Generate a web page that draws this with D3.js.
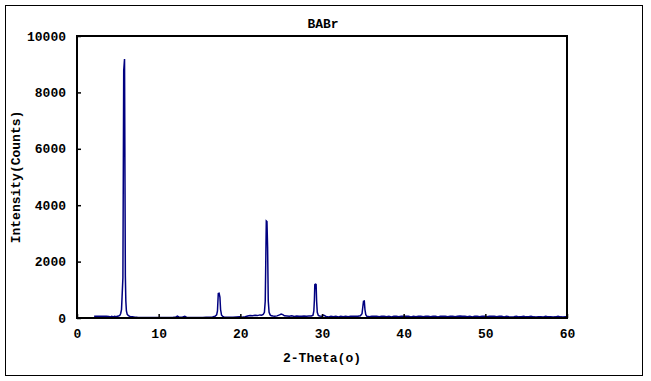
<!DOCTYPE html>
<html>
<head>
<meta charset="utf-8">
<script src="https://cdn.jsdelivr.net/npm/d3@7"></script>
<style>
body { margin: 0; background: #fff; }
text { font-family: "Liberation Mono", "DejaVu Sans Mono", monospace; font-weight: bold; }
</style>
</head>
<body>
<svg id="chart" width="651" height="381"></svg>
<script>
// 2-theta angles (degrees) and intensity counts
var twoTheta = [
  2.10, 2.40, 2.70, 3.00, 3.30, 3.60, 3.90, 4.10, 4.25, 4.45, 4.60, 4.80, 4.95, 5.10, 5.25, 5.35, 5.45,
  5.52, 5.62, 5.72, 5.82, 5.92, 5.98, 6.05, 6.15, 6.30, 6.50,
  6.8, 7.1, 7.4, 7.8, 8.2, 8.6, 9.0, 9.4, 9.8, 10.2, 10.6, 11.0, 11.4, 11.8, 12.1, 12.3, 12.5, 12.9,
  13.2, 13.4, 13.8, 14.2, 14.6, 15.0, 15.4, 15.8, 16.2, 16.6, 16.9, 17.1, 17.2, 17.3, 17.4, 17.5,
  17.58, 17.7, 17.85, 18.0,
  18.3, 18.7, 19.1, 19.5, 19.9, 20.2, 20.6, 20.9, 21.2, 21.5, 21.8, 22.1, 22.4, 22.6, 22.8, 22.95,
  23.05, 23.10, 23.18, 23.26, 23.34, 23.42, 23.52, 23.65, 23.8, 24.0,
  24.2, 24.5, 24.8, 25.0, 25.2, 25.4, 25.7, 26.0, 26.3, 26.6, 26.9, 27.2, 27.5, 27.8, 28.1, 28.4,
  28.7, 28.9, 29.0, 29.07, 29.12, 29.2, 29.28, 29.34, 29.42, 29.55, 29.7,
  30.0, 30.2, 30.5, 30.8, 31.1, 31.4, 31.7, 32.0, 32.3, 32.6, 32.9, 33.2, 33.5, 33.8, 34.1, 34.4,
  34.7, 34.9, 35.0, 35.08, 35.18, 35.26, 35.36, 35.5,
  35.8, 36.1, 36.4, 36.7, 37.0, 37.3, 37.6, 37.9, 38.2, 38.5, 38.8, 39.1, 39.4, 39.7, 40.0, 40.3,
  40.6, 40.9, 41.2, 41.5, 41.8, 42.1, 42.4, 42.7, 43.0, 43.3, 43.6, 43.9, 44.2, 44.5, 44.8, 45.1,
  45.4, 45.7, 46.0, 46.3, 46.6, 46.9, 47.2, 47.5, 47.8, 48.1, 48.4, 48.7, 49.0, 49.3, 49.6, 49.9,
  50.2, 50.5, 50.8, 51.1, 51.4, 51.7, 52.0, 52.3, 52.6, 52.9, 53.2, 53.5, 53.8, 54.1, 54.4, 54.7,
  55.0, 55.3, 55.6, 55.9, 56.2, 56.5, 56.8, 57.1, 57.4, 57.7, 58.0, 58.3, 58.6, 58.9, 59.2, 59.5,
  59.8, 60.0
];
var counts = [
  62, 60, 64, 61, 58, 63, 57, 40, 62, 38, 60, 45, 66, 70, 95, 160, 300,
  750, 1420, 8780, 9180, 1500, 600, 250, 130, 80, 55,
  45, 30, 25, 22, 20, 18, 20, 22, 18, 20, 22, 20, 18, 25, 40, 65, 30, 25,
  62, 28, 22, 20, 22, 20, 22, 25, 28, 35, 60, 110, 250, 870, 880, 745,
  300, 100, 60, 40,
  30, 28, 30, 35, 40, 30, 45, 70, 90, 80, 95, 85, 110, 100, 130, 200,
  600, 1650, 3440, 3420, 2500, 600, 200, 110, 80, 70,
  65, 75, 110, 140, 120, 80, 70, 60, 75, 55, 70, 60, 65, 70, 65, 70,
  75, 100, 250, 650, 1180, 1200, 1190, 600, 200, 90, 70,
  60, 100, 55, 40, 60, 45, 62, 40, 60, 42, 64, 45, 60, 58, 62, 60,
  80, 150, 400, 590, 600, 300, 120, 60,
  45, 62, 58, 60, 45, 64, 60, 42, 62, 40, 60, 62, 45, 60, 65, 58,
  62, 40, 63, 45, 62, 60, 42, 64, 62, 45, 60, 62, 40, 66, 62, 60,
  45, 63, 61, 42, 62, 68, 66, 60, 45, 62, 40, 60, 63, 45, 62, 60,
  42, 64, 60, 62, 45, 62, 60, 40, 61, 45, 38, 42, 62, 40, 45, 60,
  40, 42, 62, 40, 38, 42, 40, 38, 60, 40, 42, 38, 40, 62, 40, 38,
  42, 40
];
var xTicks = [0, 10, 20, 30, 40, 50, 60];
var yTicks = [0, 2000, 4000, 6000, 8000, 10000];

var data = twoTheta.map(function (t, i) { return {t: t, c: counts[i]}; });

var margin = {top: 36, right: 84, bottom: 63, left: 77},
    width = 651 - margin.left - margin.right,
    height = 381 - margin.top - margin.bottom;

var svg = d3.select("#chart");

// outer border
svg.append("rect")
    .attr("x", 5.5).attr("y", 5.5)
    .attr("width", 637).attr("height", 370)
    .attr("fill", "none").attr("stroke", "#000").attr("stroke-width", 1);

var g = svg.append("g")
    .attr("transform", "translate(" + margin.left + "," + margin.top + ")");

var x = d3.scaleLinear().domain([0, 60]).range([0, width]);
var y = d3.scaleLinear().domain([0, 10000]).range([height, 0]);

var line = d3.line()
    .x(function (d) { return x(d.t); })
    .y(function (d) { return y(d.c); });

g.append("path")
    .datum(data)
    .attr("fill", "none")
    .attr("stroke", "#000080")
    .attr("stroke-width", 1.5)
    .attr("d", line);

var xAxis = g.append("g")
    .attr("transform", "translate(0," + height + ")")
    .call(d3.axisBottom(x).tickValues(xTicks).tickFormat(d3.format("d"))
        .tickSizeInner(-4).tickSizeOuter(0).tickPadding(11));

var yAxis = g.append("g")
    .call(d3.axisLeft(y).tickValues(yTicks).tickFormat(d3.format("d"))
        .tickSizeInner(-4).tickSizeOuter(0).tickPadding(11));

[xAxis, yAxis].forEach(function (a) {
    a.select(".domain").remove();
    a.selectAll("line").attr("stroke", "#000").attr("stroke-width", 1.5);
    a.selectAll("text")
        .attr("fill", "#000")
        .style("font-size", "13px")
        .style("font-family", "Liberation Mono, DejaVu Sans Mono, monospace")
        .style("font-weight", "bold");
});

// plot frame
g.append("rect")
    .attr("x", 0).attr("y", 0)
    .attr("width", width).attr("height", height)
    .attr("fill", "none").attr("stroke", "#000").attr("stroke-width", 2);

svg.append("text")
    .attr("x", 323).attr("y", 28)
    .attr("text-anchor", "middle")
    .style("font-size", "13px")
    .text("BABr");

svg.append("text")
    .attr("x", margin.left + width / 2).attr("y", 362)
    .attr("text-anchor", "middle")
    .style("font-size", "13px")
    .text("2-Theta(o)");

svg.append("text")
    .attr("transform", "translate(20," + (margin.top + height / 2) + ") rotate(-90)")
    .attr("text-anchor", "middle")
    .style("font-size", "13px")
    .text("Intensity(Counts)");
</script>
</body>
</html>
